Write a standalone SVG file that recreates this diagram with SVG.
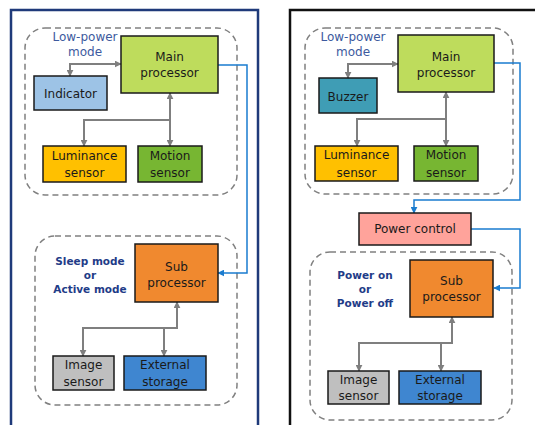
<svg xmlns="http://www.w3.org/2000/svg" width="535" height="425" viewBox="0 0 535 425">
<defs>
<marker id="ga" viewBox="0 0 10 10" refX="9" refY="5" markerWidth="7" markerHeight="7" markerUnits="userSpaceOnUse" orient="auto-start-reverse"><path d="M0,0 L10,5 L0,10 z" fill="#7f7f7f"/></marker>
<marker id="ba" viewBox="0 0 10 10" refX="9" refY="5" markerWidth="7" markerHeight="7" markerUnits="userSpaceOnUse" orient="auto-start-reverse"><path d="M0,0 L10,5 L0,10 z" fill="#1a7ccf"/></marker>
</defs>
<style>
text{font-family:"DejaVu Sans",Verdana,sans-serif;font-size:12px;fill:#1a1a1a;text-anchor:middle}
.box{stroke:#1a1a1a;stroke-width:1.5}
.dash{fill:none;stroke:#808080;stroke-width:1.5;stroke-dasharray:6 4}
.g{fill:none;stroke:#7f7f7f;stroke-width:2}
.b{fill:none;stroke:#1a7ccf;stroke-width:1.5}
.mode{fill:#3d5a9e}
.st{fill:#1f3c88;font-weight:bold;font-size:10.5px}
</style>
<rect width="535" height="425" fill="#ffffff"/>
<g id="panel-left">
<rect x="11" y="10" width="247" height="430" fill="none" stroke="#1f3a7a" stroke-width="2.5"/>
<rect x="25" y="28" width="212" height="167" rx="20" class="dash"/>
<rect x="35" y="236" width="202" height="169" rx="20" class="dash"/>
<text class="mode" x="85" y="41">Low-power</text>
<text class="mode" x="85" y="56">mode</text>
<text class="st" x="90" y="265">Sleep mode</text>
<text class="st" x="90" y="279">or</text>
<text class="st" x="90" y="293">Active mode</text>
</g>
<g id="panel-right">
<rect x="290" y="10" width="260" height="430" fill="none" stroke="#111111" stroke-width="2.5"/>
<rect x="305" y="28" width="208" height="166" rx="20" class="dash"/>
<rect x="310" y="252" width="202" height="168" rx="20" class="dash"/>
<text class="mode" x="353" y="41">Low-power</text>
<text class="mode" x="353" y="56">mode</text>
<text class="st" x="365" y="279">Power on</text>
<text class="st" x="365" y="293">or</text>
<text class="st" x="365" y="307">Power off</text>
</g>
<g id="connectors">
<path class="g" d="M121,64 H70 V76" marker-start="url(#ga)" marker-end="url(#ga)"/>
<path class="g" d="M170,93 V146" marker-start="url(#ga)" marker-end="url(#ga)"/>
<path class="g" d="M170,120 H84 V146" marker-end="url(#ga)"/>
<path class="g" d="M177,302 V328 H83 V356" marker-start="url(#ga)" marker-end="url(#ga)"/>
<path class="g" d="M164,328 V356" marker-end="url(#ga)"/>
<path class="b" d="M218,65 H247 V273 H218" marker-end="url(#ba)"/>
<path class="g" d="M398,64 H348 V78" marker-start="url(#ga)" marker-end="url(#ga)"/>
<path class="g" d="M446,92 V146" marker-start="url(#ga)" marker-end="url(#ga)"/>
<path class="g" d="M446,119 H357 V146" marker-end="url(#ga)"/>
<path class="g" d="M452,317 V343 H359 V371" marker-start="url(#ga)" marker-end="url(#ga)"/>
<path class="g" d="M441,343 V371" marker-end="url(#ga)"/>
<path class="b" d="M494,63 H520 V200 H414 V213" marker-end="url(#ba)"/>
<path class="b" d="M471,229 H520 V288 H494" marker-end="url(#ba)"/>
</g>
<g id="L-main"><rect class="box" x="121" y="36" width="97" height="57" fill="#bedc5c"/><text x="169.5" y="61">Main</text><text x="169.5" y="77">processor</text></g>
<g id="L-indicator"><rect class="box" x="34" y="76" width="73" height="34" fill="#9dc3e6"/><text x="70.5" y="98">Indicator</text></g>
<g id="L-luminance"><rect class="box" x="43" y="146" width="83" height="36" fill="#ffc000"/><text x="84.5" y="160">Luminance</text><text x="84.5" y="177">sensor</text></g>
<g id="L-motion"><rect class="box" x="138" y="146" width="64" height="36" fill="#77b632"/><text x="170" y="160">Motion</text><text x="170" y="177">sensor</text></g>
<g id="L-sub"><rect class="box" x="135" y="244" width="83" height="58" fill="#f0892f"/><text x="176.5" y="271">Sub</text><text x="176.5" y="287">processor</text></g>
<g id="L-image"><rect class="box" x="53" y="356" width="61" height="34" fill="#bfbfbf"/><text x="83.5" y="369">Image</text><text x="83.5" y="386">sensor</text></g>
<g id="L-storage"><rect class="box" x="124" y="356" width="82" height="34" fill="#3f86d0"/><text x="165" y="369">External</text><text x="165" y="386">storage</text></g>
<g id="R-main"><rect class="box" x="398" y="35" width="96" height="57" fill="#bedc5c"/><text x="446" y="61">Main</text><text x="446" y="77">processor</text></g>
<g id="R-buzzer"><rect class="box" x="319" y="78" width="58" height="35" fill="#3f9db5"/><text x="348" y="101">Buzzer</text></g>
<g id="R-luminance"><rect class="box" x="315" y="146" width="83" height="35" fill="#ffc000"/><text x="356.5" y="159">Luminance</text><text x="356.5" y="177">sensor</text></g>
<g id="R-motion"><rect class="box" x="414" y="146" width="64" height="35" fill="#77b632"/><text x="446" y="159">Motion</text><text x="446" y="177">sensor</text></g>
<g id="R-power"><rect class="box" x="359" y="213" width="112" height="32" fill="#ffa39b"/><text x="415" y="233">Power control</text></g>
<g id="R-sub"><rect class="box" x="410" y="260" width="83" height="57" fill="#f0892f"/><text x="451.5" y="285">Sub</text><text x="451.5" y="301">processor</text></g>
<g id="R-image"><rect class="box" x="328" y="371" width="61" height="33" fill="#bfbfbf"/><text x="358.5" y="384">Image</text><text x="358.5" y="400">sensor</text></g>
<g id="R-storage"><rect class="box" x="399" y="371" width="82" height="33" fill="#3f86d0"/><text x="440" y="384">External</text><text x="440" y="400">storage</text></g>
</svg>
